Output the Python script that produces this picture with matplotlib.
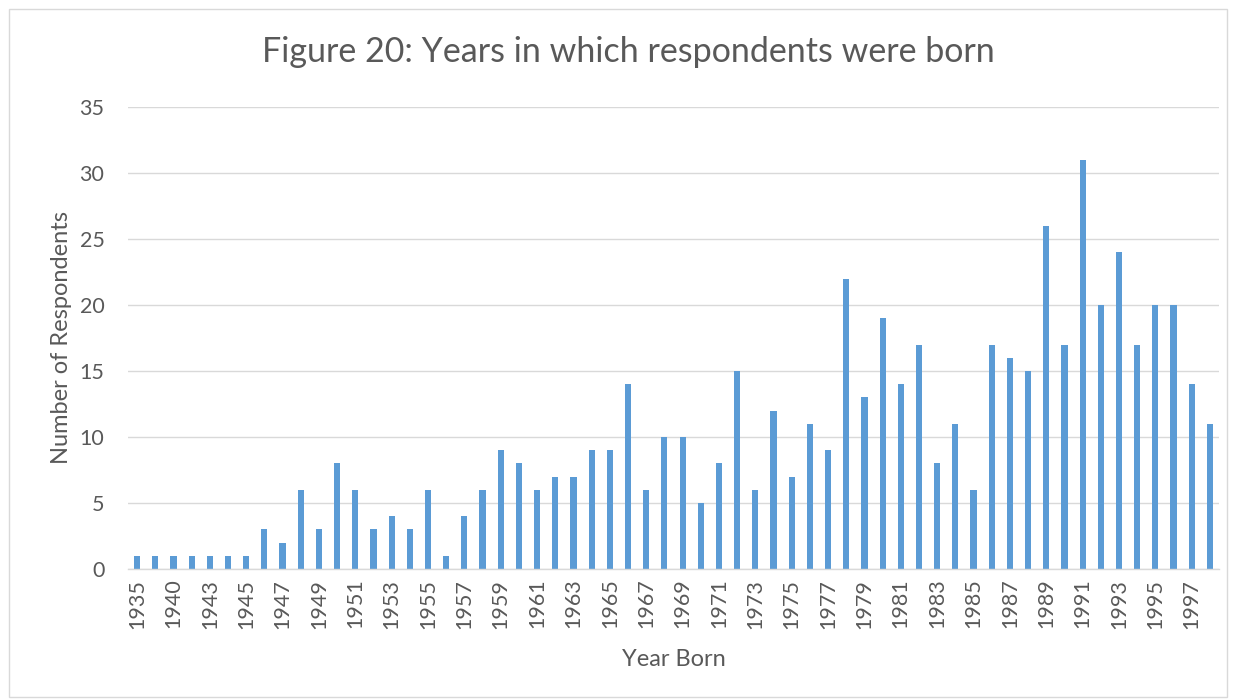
import matplotlib
matplotlib.use("Agg")
import matplotlib.pyplot as plt
from matplotlib.patches import Rectangle

years = [1935, 1938, 1940, 1941, 1943, 1944, 1945, 1946] + list(range(1947, 1999))
counts = [1, 1, 1, 1, 1, 1, 1, 3,
          2, 6, 3, 8, 6, 3, 4, 3, 6, 1,
          4, 6, 9, 8, 6, 7, 7, 9, 9, 14,
          6, 10, 10, 5, 8, 15, 6, 12, 7, 11,
          9, 22, 13, 19, 14, 17, 8, 11, 6, 17,
          16, 15, 26, 17, 31, 20, 24, 17, 20, 20,
          14, 11]
title = "Figure 20: Years in which respondents were born"
xlabel = "Year Born"
ylabel = "Number of Respondents"

plt.rcParams['font.family'] = ['Lato', 'DejaVu Sans']
text_color = '#595959'

fig = plt.figure(figsize=(12.36, 7), dpi=100)
fig.patches.append(Rectangle((9/1236, 3/700), 1218/1236, 688/700, transform=fig.transFigure,
                             fill=False, edgecolor='#D9D9D9', linewidth=1))
ax = fig.add_axes([128/1236, 1-569/700, (1219-128)/1236, (569-107)/700])

x = list(range(len(years)))
ax.bar(x, counts, width=0.34, color='#5B9BD5', zorder=3)
ax.set_xlim(-0.5, len(years)-0.5)
ax.set_ylim(0, 35)
ax.set_yticks(range(0, 36, 5))
ax.set_xticks(x[::2])
ax.set_xticklabels([str(y) for y in years[::2]], rotation=90)
ax.tick_params(axis='both', length=0, labelsize=15.5, colors=text_color)
ax.tick_params(axis='y', pad=17)
ax.tick_params(axis='x', pad=7)
ax.grid(axis='y', color='#D9D9D9', linewidth=1, zorder=0)
for s in ['top', 'right', 'left']:
    ax.spines[s].set_visible(False)
ax.spines['bottom'].set_color('#D9D9D9')
ax.spines['bottom'].set_linewidth(1)
ax.spines['bottom'].set_zorder(4)

ax.set_xlabel(xlabel, fontsize=17, color=text_color, labelpad=15)
ax.set_ylabel(ylabel, fontsize=17, color=text_color, labelpad=5)
fig.text(628/1236, 1-52/700, title, ha='center', va='center', fontsize=24.5, color=text_color)

fig.savefig('out.png', dpi=100, facecolor='white')
